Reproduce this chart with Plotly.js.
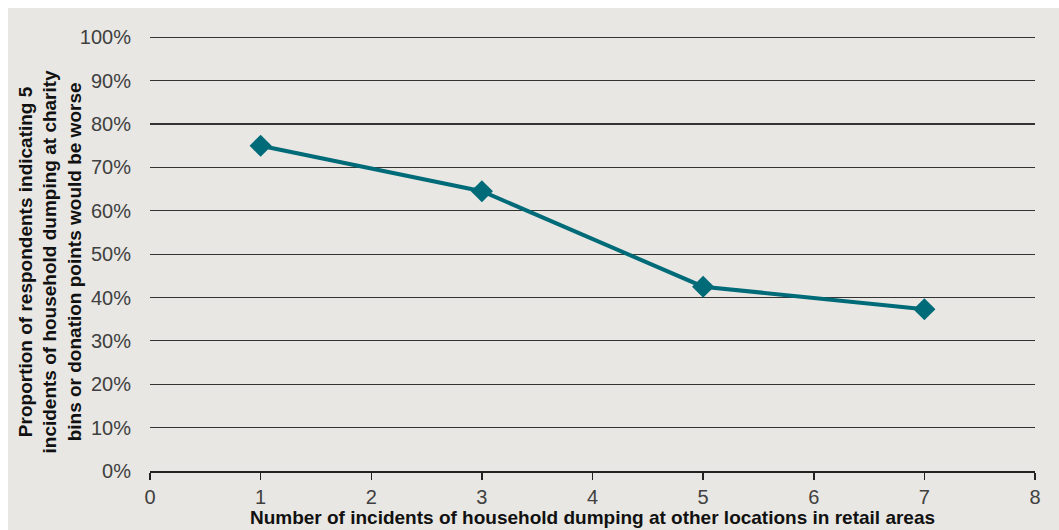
<!DOCTYPE html>
<html>
<head>
<meta charset="utf-8">
<script src="https://cdn.plot.ly/plotly-3.0.1.min.js"></script>
<style>
html,body{margin:0;padding:0;background:#ffffff;width:1059px;height:530px;overflow:hidden;}
#chart{position:absolute;left:8px;top:8px;width:1051px;height:522px;}
</style>
</head>
<body>
<div id="chart"></div>
<script>
const incidents = [1, 3, 5, 7];
const proportionWorse = [0.75, 0.645, 0.425, 0.373];
const xTickValues = [0, 1, 2, 3, 4, 5, 6, 7, 8];
const yTickValues = [0, 0.1, 0.2, 0.3, 0.4, 0.5, 0.6, 0.7, 0.8, 0.9, 1.0];
const xTitle = "Number of incidents of household dumping at other locations in retail areas";
const yTitle = "Proportion of respondents indicating 5<br>incidents of household dumping at charity<br>bins or donation points would be worse";

const teal = "#006b78";
const bg = "#e8e7e3";
const titleFont = {size: 19, color: "#111111", family: "Liberation Sans, Arial, sans-serif", weight: "bold"};

const trace = {
  x: incidents,
  y: proportionWorse,
  type: "scatter",
  mode: "lines+markers",
  line: {color: teal, width: 4},
  marker: {symbol: "diamond", size: 17, color: teal},
  hoverinfo: "skip"
};

const layout = {
  width: 1051,
  height: 522,
  paper_bgcolor: bg,
  plot_bgcolor: bg,
  margin: {l: 142, r: 24, t: 28, b: 59},
  showlegend: false,
  font: {family: "Liberation Sans, Arial, sans-serif", color: "#404040"},
  xaxis: {
    range: [0, 8],
    tickvals: xTickValues,
    ticktext: xTickValues.map(String),
    showgrid: false,
    zeroline: false,
    showline: true,
    linecolor: "#222222",
    linewidth: 1.5,
    ticks: "outside",
    ticklen: 7,
    tickwidth: 1.5,
    tickcolor: "#222222",
    tickfont: {size: 20, color: "#404040"},
    title: {text: xTitle, font: titleFont, standoff: 0}
  },
  yaxis: {
    range: [0, 1.003],
    tickvals: yTickValues,
    ticktext: yTickValues.map(v => Math.round(v * 100) + "%"),
    showgrid: true,
    gridcolor: "#333333",
    gridwidth: 1.2,
    zeroline: false,
    showline: false,
    ticks: "outside",
    ticklen: 14,
    tickcolor: "rgba(0,0,0,0)",
    tickfont: {size: 20, color: "#404040"}
  },
  annotations: [{
    text: yTitle,
    xref: "paper",
    yref: "paper",
    x: 0,
    y: 0.5,
    xanchor: "center",
    yanchor: "middle",
    xshift: -101,
    yshift: -8,
    textangle: -90,
    showarrow: false,
    align: "center",
    font: titleFont
  }]
};

Plotly.newPlot("chart", [trace], layout, {displayModeBar: false, staticPlot: true});
</script>
</body>
</html>
